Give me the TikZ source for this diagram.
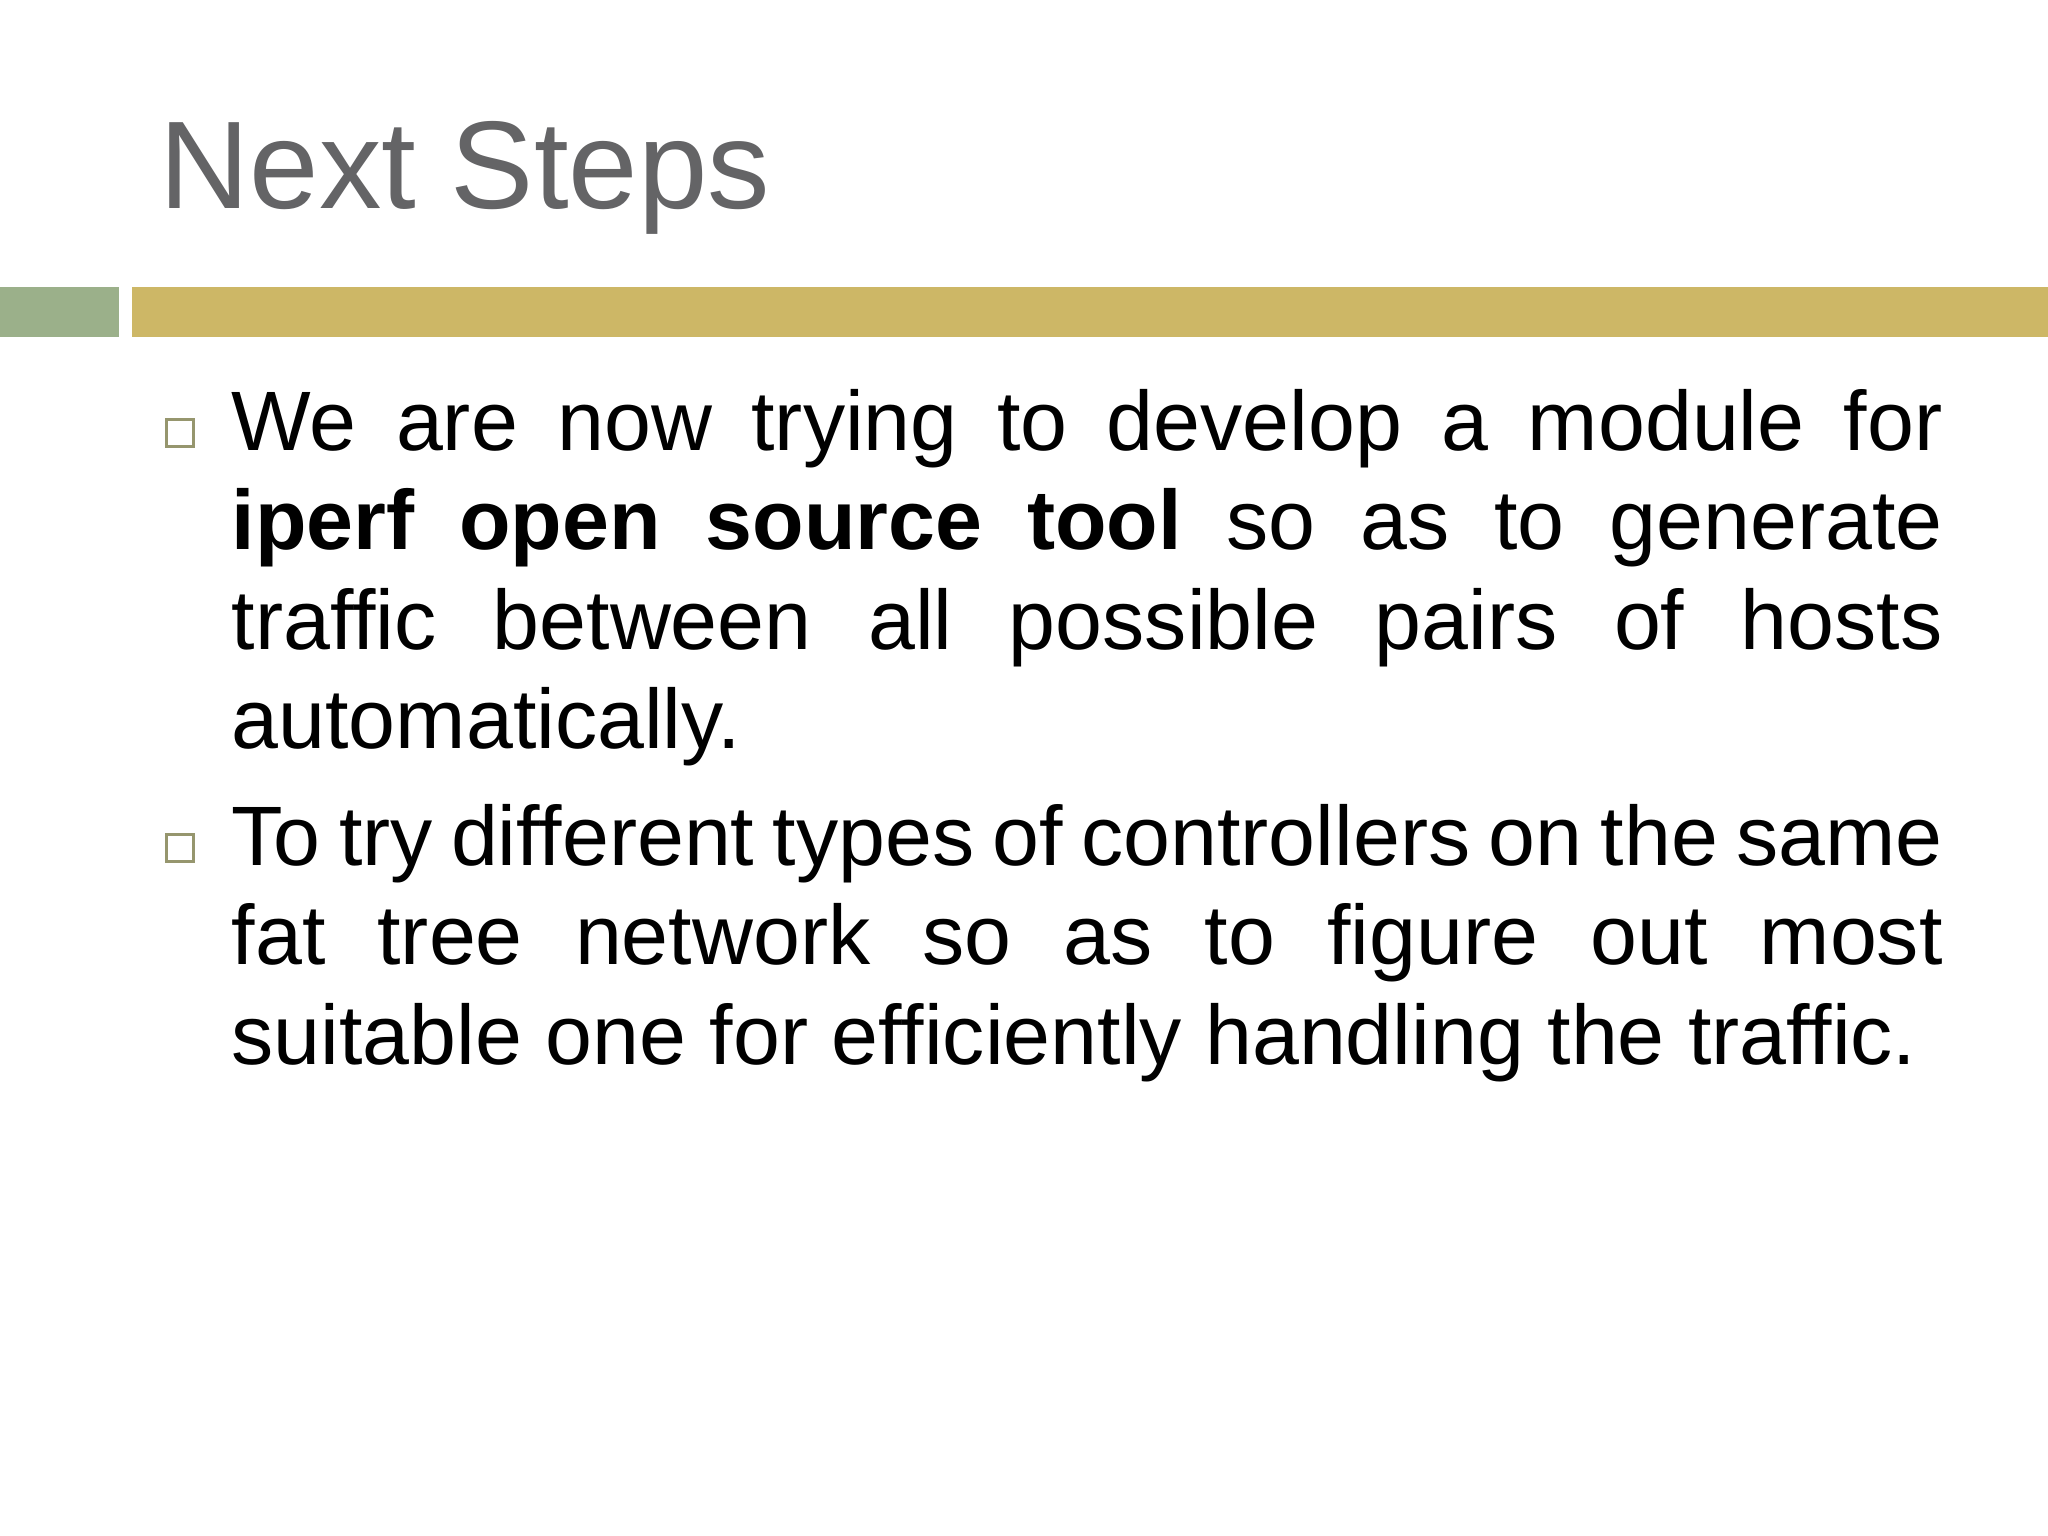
\documentclass[tikz,border=0pt]{standalone}
\usepackage{fontspec}
\setmainfont{Liberation Sans}
\definecolor{titlegray}{RGB}{100,100,102}
\definecolor{bargreen}{RGB}{155,176,138}
\definecolor{bargold}{RGB}{205,183,102}
\definecolor{boxcol}{RGB}{150,150,110}
\newcommand{\nohyph}{\hyphenpenalty=10000\relax\exhyphenpenalty=10000\relax}
\tikzset{
  bodytext/.style={anchor=north west,inner sep=0pt,text width=17.11cm,align=justify,font=\fontsize{24}{28.2}\selectfont},
  bulletbox/.style={draw=boxcol,line width=0.9pt,minimum size=0.27cm,inner sep=0pt}
}
\begin{document}
\begin{tikzpicture}
\useasboundingbox[fill=white] (0,0) rectangle (20.48,-15.36);
\node[anchor=base west,inner sep=0pt,text=titlegray,font=\fontsize{35.5}{40}\selectfont] (title) at (1.59,-2.09) {Next Steps};
\fill[bargreen] (0,-2.87) rectangle (1.19,-3.37);
\fill[bargold] (1.32,-2.87) rectangle (20.48,-3.37);
\node[bulletbox] (b1) at (1.80,-4.33) {};
\node[bodytext] (p1) at (2.31,-3.89) {\nohyph We are now trying to develop a module for\linebreak \textbf{iperf open source tool} so as to generate\linebreak traffic between all possible pairs of hosts\linebreak automatically.};
\node[bulletbox] (b2) at (1.80,-8.48) {};
\node[bodytext] (p2) at (2.31,-8.04) {\nohyph To try different types of controllers on the same\linebreak fat tree network so as to figure out most\linebreak suitable one for efficiently handling the traffic.};
\end{tikzpicture}
\end{document}
